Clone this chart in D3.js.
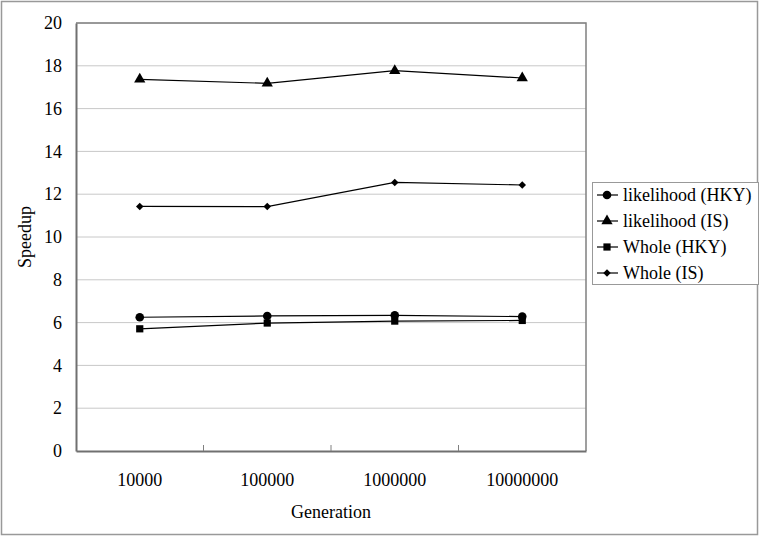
<!DOCTYPE html>
<meta charset="utf-8">
<style>
  body { margin: 0; background: #fff; }
  text { font-family: "Liberation Serif", "Times New Roman", serif; fill: #000; }
</style>
<body>
<div id="chart"></div>
<script src="https://cdn.jsdelivr.net/npm/d3@7"></script>
<script>

// data
var generations = ["10000", "100000", "1000000", "10000000"];
var seriesNames = ["likelihood (HKY)", "likelihood (IS)", "Whole (HKY)", "Whole (IS)"];
var likelihoodHKY = [6.25, 6.31, 6.34, 6.28];
var likelihoodIS = [17.37, 17.18, 17.77, 17.43];
var wholeHKY = [5.71, 5.98, 6.07, 6.10];
var wholeIS = [11.43, 11.42, 12.55, 12.43];
var yTicks = [0, 2, 4, 6, 8, 10, 12, 14, 16, 18, 20];

var series = [
  {name: seriesNames[0], values: likelihoodHKY, symbol: d3.symbolCircle, size: 58, rot: 0},
  {name: seriesNames[1], values: likelihoodIS, symbol: d3.symbolTriangle, size: 55, rot: 0},
  {name: seriesNames[2], values: wholeHKY, symbol: d3.symbolSquare, size: 52, rot: 0},
  {name: seriesNames[3], values: wholeIS, symbol: d3.symbolSquare, size: 28, rot: 45}
];

var W = 760, H = 536;
var margin = {top: 23, right: 174, bottom: 85, left: 76};
var width = W - margin.left - margin.right,
    height = H - margin.top - margin.bottom;

var svg = d3.select("#chart").append("svg")
    .attr("width", W)
    .attr("height", H);

// outer frame
svg.append("rect")
    .attr("x", 1.5).attr("y", 1.5)
    .attr("width", W - 4).attr("height", H - 3)
    .attr("fill", "none")
    .attr("stroke", "#999")
    .attr("stroke-width", 1.5);

var g = svg.append("g")
    .attr("transform", "translate(" + margin.left + "," + margin.top + ")");

var x = d3.scaleBand().domain(generations).range([0, width]);
var y = d3.scaleLinear().domain([0, 20]).range([height, 0]);

// gridlines
g.selectAll(".grid")
  .data(yTicks.filter(function(d) { return d > 0; }))
  .enter().append("line")
    .attr("x1", 0).attr("x2", width)
    .attr("y1", function(d) { return y(d); })
    .attr("y2", function(d) { return y(d); })
    .attr("stroke", "#c8c8c8")
    .attr("stroke-width", 1);

// plot border (top/right)
g.append("path")
    .attr("d", "M0,0H" + width + "V" + height)
    .attr("fill", "none")
    .attr("stroke", "#808080")
    .attr("stroke-width", 1.5);

// y axis
var yAxis = g.append("g")
    .call(d3.axisLeft(y).tickValues(yTicks).tickSize(0).tickPadding(14));
yAxis.select(".domain").attr("stroke", "#707070").attr("stroke-width", 2);
yAxis.selectAll("text").style("font-size", "18px");

// x axis
var xAxis = g.append("g")
    .attr("transform", "translate(0," + height + ")")
    .call(d3.axisBottom(x).tickSize(0).tickPadding(22));
xAxis.select(".domain").attr("stroke", "#707070").attr("stroke-width", 2);
xAxis.selectAll("text").style("font-size", "18px");

// category boundary ticks (inward)
g.selectAll(".xtick")
  .data(generations.slice(1))
  .enter().append("line")
    .attr("x1", function(d) { return x(d); })
    .attr("x2", function(d) { return x(d); })
    .attr("y1", height)
    .attr("y2", height - 6)
    .attr("stroke", "#808080");

// axis titles
svg.append("text")
    .attr("transform", "translate(31," + (margin.top + height / 2) + ") rotate(-90)")
    .attr("text-anchor", "middle")
    .style("font-size", "18px")
    .text("Speedup");

svg.append("text")
    .attr("x", margin.left + width / 2)
    .attr("y", 518)
    .attr("text-anchor", "middle")
    .style("font-size", "18px")
    .text("Generation");

// lines + markers
var line = d3.line()
    .x(function(d, i) { return x(generations[i]) + x.bandwidth() / 2; })
    .y(function(d) { return y(d); });

series.forEach(function(s) {
  g.append("path")
      .datum(s.values)
      .attr("d", line)
      .attr("fill", "none")
      .attr("stroke", "#000")
      .attr("stroke-width", 1.2);

  g.selectAll(null)
    .data(s.values)
    .enter().append("path")
      .attr("d", d3.symbol().type(s.symbol).size(s.size))
      .attr("transform", function(d, i) {
        return "translate(" + (x(generations[i]) + x.bandwidth() / 2) + "," + y(d) + ") rotate(" + s.rot + ")";
      })
      .attr("fill", "#000");
});

// legend
var legend = svg.append("g").attr("transform", "translate(592,182)");
legend.append("rect")
    .attr("x", 0.5).attr("y", 0.5)
    .attr("width", 166).attr("height", 102)
    .attr("fill", "#fff")
    .attr("stroke", "#999");

var items = legend.selectAll(".item")
  .data(series)
  .enter().append("g")
    .attr("transform", function(d, i) { return "translate(0," + (13 + i * 26) + ")"; });

items.append("line")
    .attr("x1", 5).attr("x2", 26)
    .attr("y1", 0).attr("y2", 0)
    .attr("stroke", "#000")
    .attr("stroke-width", 1.2);

items.append("path")
    .attr("d", function(d) { return d3.symbol().type(d.symbol).size(d.size)(); })
    .attr("transform", function(d) { return "translate(15,0) rotate(" + d.rot + ")"; })
    .attr("fill", "#000");

items.append("text")
    .attr("x", 31)
    .attr("y", 6)
    .style("font-size", "18px")
    .text(function(d) { return d.name; });

</script>
</body>
